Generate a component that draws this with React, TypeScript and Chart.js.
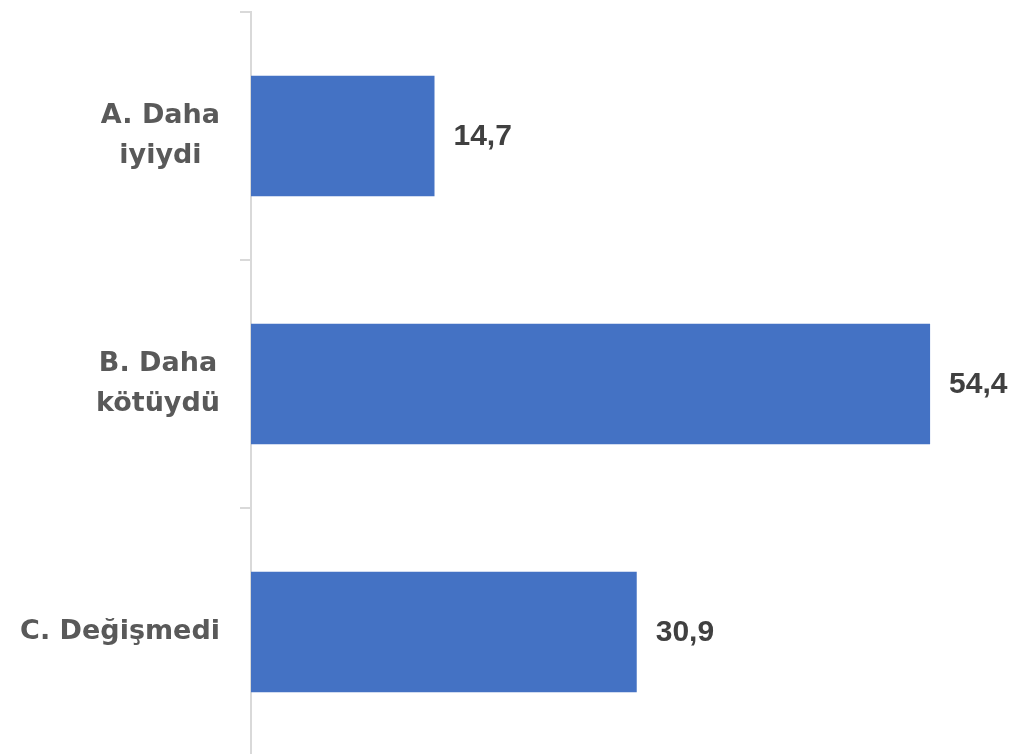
import React, { useEffect, useRef } from "react";
import { Chart, registerables } from "chart.js";

Chart.register(...registerables);

const categories: string[][] = [["A. Daha", "iyiydi"], ["B. Daha", "kötüydü"], ["C. Değişmedi"]];
const values: number[] = [14.7, 54.4, 30.9];
const barColor = "#4472C4";

const labelPlugin = {
  id: "customLabels",
  afterDraw(chart: any) {
    const ctx = chart.ctx;
    const yScale = chart.scales.y;
    const xScale = chart.scales.x;
    ctx.save();
    // category labels
    ctx.font = "bold 27px 'DejaVu Sans', sans-serif";
    ctx.fillStyle = "#595959";
    ctx.textBaseline = "middle";
    ctx.textAlign = "center";
    const rightEdge = chart.chartArea.left - 31;
    categories.forEach((lines, i) => {
      const cy = yScale.getPixelForValue(i);
      const maxW = Math.max(...lines.map((l) => ctx.measureText(l).width));
      const cx = rightEdge - maxW / 2;
      const lh = 40;
      const startY = cy - ((lines.length - 1) * lh) / 2;
      lines.forEach((l, j) => ctx.fillText(l, cx, startY + j * lh));
    });
    // value labels
    ctx.font = "bold 30px 'Liberation Sans', Arial, sans-serif";
    ctx.fillStyle = "#404040";
    ctx.textAlign = "left";
    values.forEach((v, i) => {
      const x = xScale.getPixelForValue(v) + 19;
      const y = yScale.getPixelForValue(i);
      ctx.fillText(v.toFixed(1).replace(".", ","), x, y + 1);
    });
    ctx.restore();
  },
};

export default function App() {
  const ref = useRef<HTMLCanvasElement>(null);
  useEffect(() => {
    if (!ref.current) return;
    const chart = new Chart(ref.current, {
      type: "bar",
      data: {
        labels: categories.map((c) => c.join(" ")),
        datasets: [
          {
            data: values,
            backgroundColor: barColor,
            categoryPercentage: 0.97,
            barPercentage: 0.5,
          },
        ],
      },
      options: {
        indexAxis: "y",
        animation: false,
        responsive: false,
        maintainAspectRatio: false,
        layout: { padding: { top: 12, right: 12, bottom: 0, left: 0 } },
        plugins: { legend: { display: false }, tooltip: { enabled: false } },
        scales: {
          x: {
            display: false,
            min: 0,
            max: 60,
          },
          y: {
            grid: {
              offset: true,
              drawOnChartArea: false,
              drawTicks: true,
              tickLength: 11,
              color: "#d9d9d9",
              lineWidth: 2,
            },
            border: { display: true, color: "#d9d9d9", width: 2 },
            ticks: { display: false },
            afterFit(scale: any) {
              scale.width = 251;
            },
          },
        },
      },
      plugins: [labelPlugin],
    });
    return () => chart.destroy();
  }, []);
  return (
    <div style={{ position: "fixed", left: 0, top: 0, width: 1012, height: 754, background: "#fff", overflow: "hidden" }}>
      <canvas ref={ref} width={1012} height={756} />
    </div>
  );
}
